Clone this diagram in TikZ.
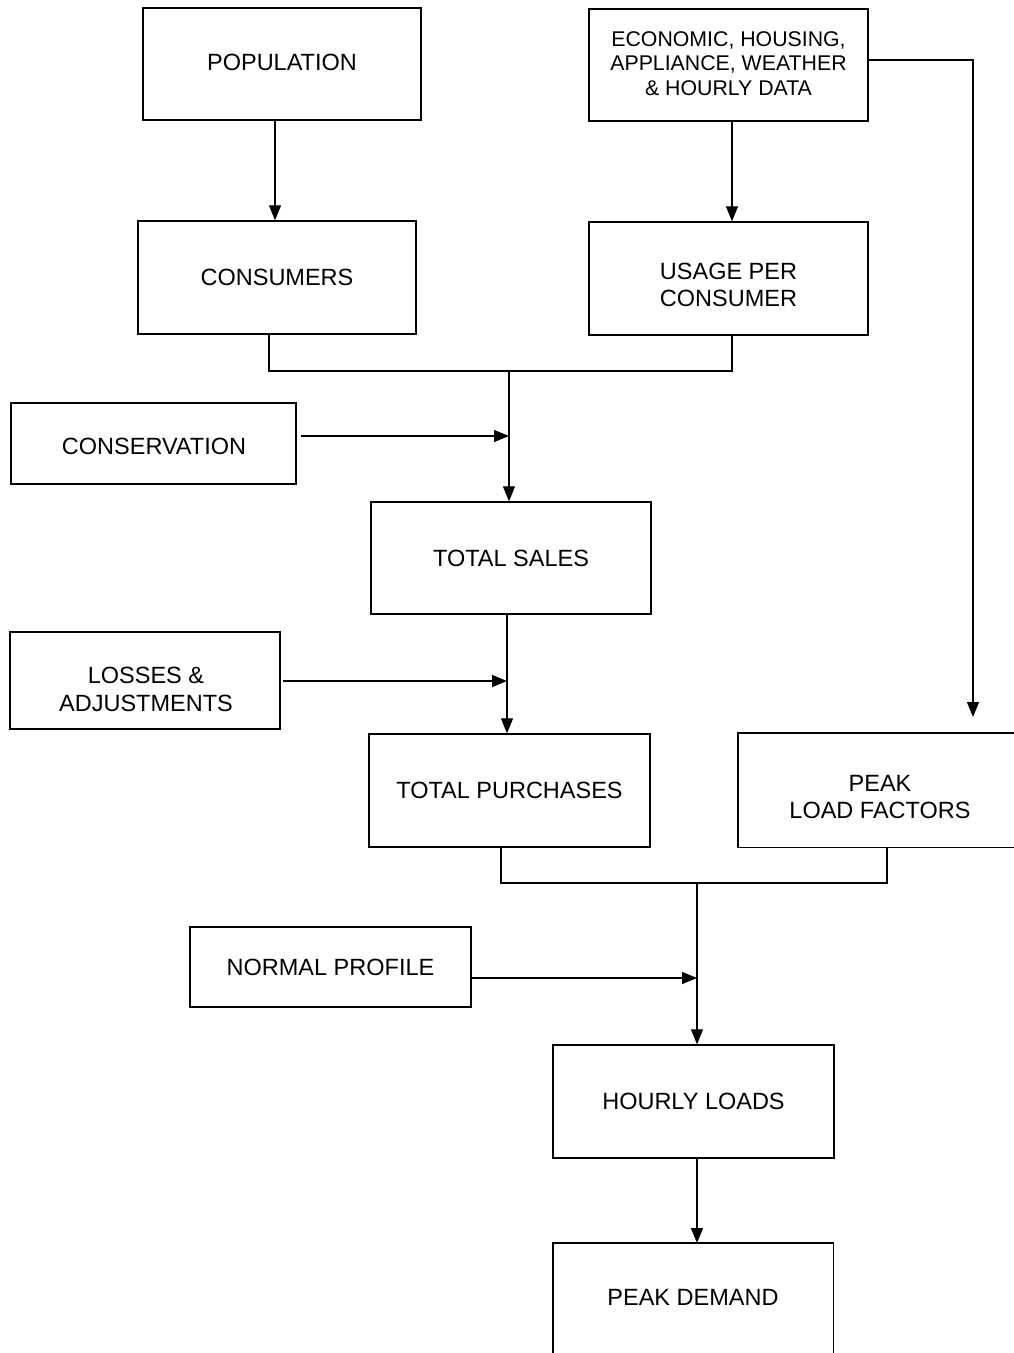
\documentclass[tikz,border=0pt]{standalone}
\usepackage{fontspec}
\setmainfont{Liberation Sans}
\usetikzlibrary{arrows.meta}
\begin{document}
\begin{tikzpicture}[x=1pt,y=-1pt,
  box/.style={draw,line width=1.4pt,rectangle,inner sep=0pt,align=center,
    font=\fontsize{23.5}{27.5}\selectfont},
  openbox/.style={rectangle,inner sep=0pt},
  edge/.style={line width=1.4pt},
  lbl/.style={inner sep=0pt,align=center,font=\fontsize{23.5}{27.5}\selectfont},
  wire/.style={line width=1.2pt},
  arr/.style={line width=1.2pt,-{Triangle[length=15pt,width=12pt]}}]
\useasboundingbox (0,0) rectangle (1013,1353);
\fill[white] (0,0) rectangle (1013,1353);
% boxes
\node[box,minimum width=278pt,minimum height=112pt] (pop) at (282,64) {};
\node[lbl] (poptxt) at (282,62) {POPULATION};
\node[box,minimum width=279pt,minimum height=112pt] (econ) at (728.5,65) {};
\node[lbl,font=\fontsize{21.3}{24.5}\selectfont] (econtxt) at (728.5,63.5) {ECONOMIC, HOUSING,\\APPLIANCE, WEATHER\\\& HOURLY DATA};
\node[box,minimum width=278pt,minimum height=113pt] (cons) at (277,277.5) {CONSUMERS};
\node[box,minimum width=279pt,minimum height=113pt] (usage) at (728.5,278.5) {};
\node[lbl] (usagetxt) at (728.5,285) {USAGE PER\\CONSUMER};
\node[box,minimum width=285pt,minimum height=81pt] (consv) at (153.5,443.5) {};
\node[lbl] (consvtxt) at (154,446.5) {CONSERVATION};
\node[box,minimum width=280pt,minimum height=112pt] (sales) at (511,558) {TOTAL SALES};
\node[box,minimum width=270pt,minimum height=97pt] (loss) at (145,680.5) {};
\node[lbl] (losstxt) at (146,689.5) {LOSSES \&\\ADJUSTMENTS};
\node[box,minimum width=281pt,minimum height=113pt] (purch) at (509.5,790.5) {TOTAL PURCHASES};
\node[openbox,minimum width=276pt,minimum height=114pt,anchor=north west] (peak) at (738,733) {};
\draw[edge] (peak.north east) -- (peak.north west) -- (peak.south west) -- (peak.south east);
\node[lbl] (peaktxt) at (880,797) {PEAK\\LOAD FACTORS};
\node[box,minimum width=281pt,minimum height=80pt] (norm) at (330.5,967) {NORMAL PROFILE};
\node[box,minimum width=281pt,minimum height=113pt] (hourly) at (693.5,1101.5) {HOURLY LOADS};
\node[openbox,minimum width=280pt,minimum height=111pt,anchor=north west] (pdem) at (553,1243) {};
\draw[edge] (pdem.south west) -- (pdem.north west) -- (pdem.north east) -- (pdem.south east);
\node[lbl] (pdemtxt) at (693,1297) {PEAK DEMAND};
% junction coordinates
\coordinate (j1) at (509,371);
\coordinate (t1) at (509,436);
\coordinate (t2) at (507,681);
\coordinate (j2) at (697,883);
\coordinate (t3) at (697,978);
\coordinate (pkin) at (973,717);
% connectors
\draw[arr] (pop.south -| 275,0) -- (cons.north -| 275,0);
\draw[arr] (econ.south -| 732,0) -- (usage.north -| 732,0);
\draw[arr] ([yshift=5pt]econ.east) -| (pkin);
\draw[wire] (cons.south -| 269,0) |- (j1) -| (usage.south -| 732,0);
\draw[arr] (j1) -- (j1 |- sales.north);
\draw[arr] ([xshift=4pt]consv.east |- t1) -- (t1);
\draw[arr] (sales.south -| t2) -- (t2 |- purch.north);
\draw[arr] ([xshift=2pt]loss.east |- t2) -- (t2);
\draw[wire] (purch.south -| 501,0) |- (j2) -| (peak.south -| 887,0);
\draw[arr] (j2) -- (j2 |- hourly.north);
\draw[arr] (norm.east |- t3) -- (t3);
\draw[arr] (hourly.south -| 697,0) -- (pdem.north -| 697,0);
\end{tikzpicture}
\end{document}
